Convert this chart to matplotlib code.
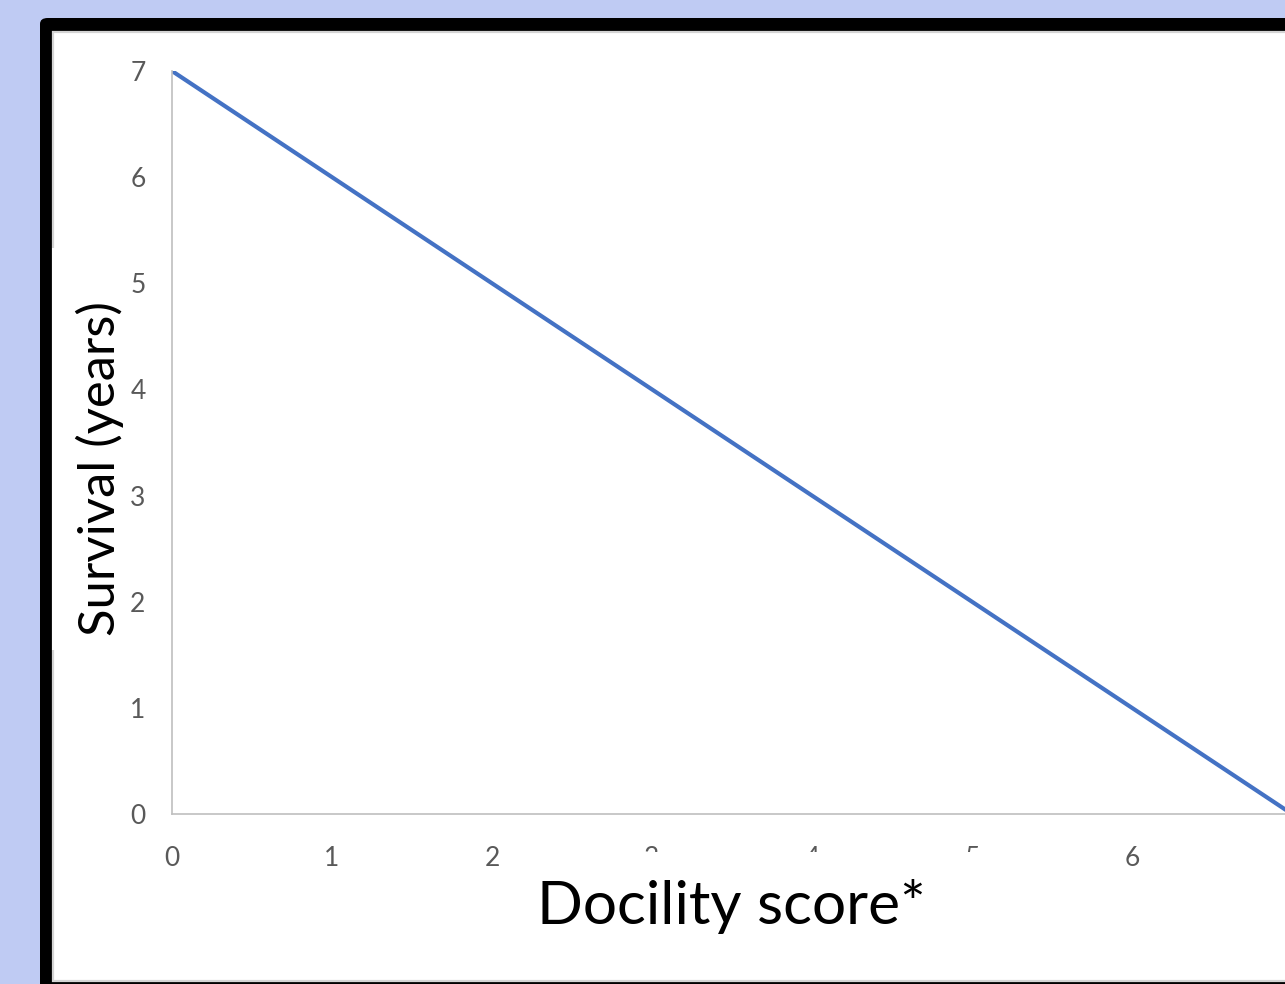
import matplotlib
matplotlib.use("Agg")
import matplotlib.pyplot as plt
from matplotlib.patches import Rectangle, FancyBboxPatch

# data: straight line from (0,7) to (7,0)
docility = [0, 7]
survival = [7, 0]
xticks = [0, 1, 2, 3, 4, 5, 6]
yticks = [0, 1, 2, 3, 4, 5, 6, 7]

W, H = 1285, 984
fig = plt.figure(figsize=(W/100, H/100), dpi=100, facecolor='#BFCBF3')

def fx(x):
    return x/W
def fy(y):
    return 1 - y/H

def box(x0, y0, x1, y1, **kw):
    # pixel rectangle (top-left origin) into figure fraction
    return Rectangle((fx(x0), fy(y1)), fx(x1)-fx(x0), fy(y0)-fy(y1),
                     transform=fig.transFigure, **kw)

# black slide frame with rounded corner
frame = FancyBboxPatch((fx(40), fy(1010)), fx(1300)-fx(40), fy(18)-fy(1010),
                       boxstyle="round,pad=0,rounding_size=0.006",
                       transform=fig.transFigure, facecolor='black',
                       edgecolor='none', zorder=-3)
fig.patches.append(frame)
fig.patches.append(box(53, 32, 1295, 981, facecolor='white', edgecolor='#D4D4D4',
                       linewidth=1.6, zorder=-2))

# axes: x=0 at px 172, 160 px per unit; y=0 at 814, y=7 at 71
ax = fig.add_axes([fx(172), fy(814), fx(W)-fx(172), fy(71)-fy(814)])
ax.set_facecolor('none')
ax.plot(docility, survival, color='#4472C4', linewidth=3, solid_capstyle='butt')
ax.set_xlim(0, (W-172)/160)
ax.set_ylim(0, 7)
ax.set_xticks(xticks)
ax.set_yticks(yticks)
for s in ['top', 'right']:
    ax.spines[s].set_visible(False)
for s in ['left', 'bottom']:
    ax.spines[s].set_color('#BFBFBF')
    ax.spines[s].set_linewidth(1.2)
ax.tick_params(axis='x', length=0, pad=23, labelsize=19, labelcolor='#595959')
ax.tick_params(axis='y', length=0, pad=19, labelsize=19, labelcolor='#595959')
for lab in ax.get_xticklabels() + ax.get_yticklabels():
    lab.set_fontfamily('Lato')

# white box behind the x label hides most of the 3,4,5 tick labels
fig.patches.append(box(628, 852, 995, 960, facecolor='white', edgecolor='none', zorder=1))
fig.patches.append(box(52, 248, 70, 650, facecolor='white', edgecolor='none', zorder=1))

fig.text(fx(731), fy(906), 'Docility score*', fontsize=43.5, family='Lato',
         ha='center', va='center', zorder=2)
fig.text(fx(100), fy(469), 'Survival (years)', fontsize=36.5, family='Lato',
         ha='center', va='center', rotation=90, zorder=2)

fig.savefig('out.png', dpi=100, facecolor=fig.get_facecolor())
